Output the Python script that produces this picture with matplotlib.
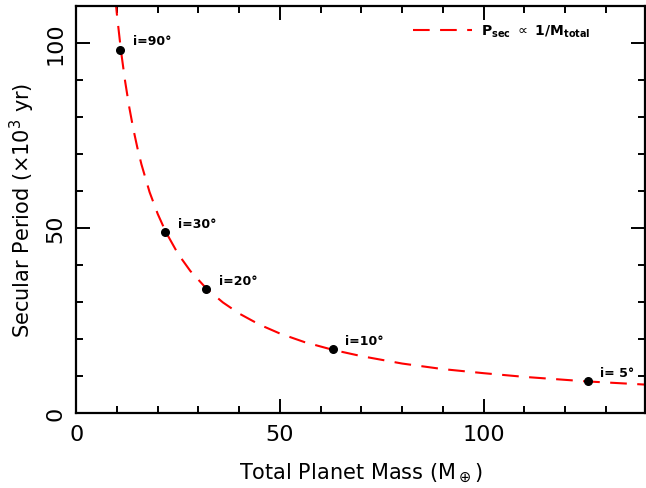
import matplotlib
matplotlib.use('Agg')
import matplotlib.pyplot as plt
from matplotlib.ticker import MultipleLocator

# curve P_sec ~ 1/M_total
curve_mass = [9.6, 10, 11, 12, 13, 14, 15, 16, 18, 20, 22, 25, 28, 32, 36, 40, 45,
              50, 56, 63, 70, 80, 90, 100, 110, 125, 140]
curve_period = [112, 107.5, 97.7, 89.6, 82.7, 76.8, 71.7, 67.2, 59.7, 53.8, 48.9,
                43.0, 38.4, 33.6, 29.9, 26.9, 23.9, 21.5, 19.2, 17.1, 15.4, 13.4,
                11.9, 10.8, 9.8, 8.6, 7.7]

# inclination points
point_mass = [10.8, 21.8, 31.9, 63.0, 125.5]
point_period = [98.1, 48.9, 33.5, 17.3, 8.65]
point_labels = ['i=90°', 'i=30°', 'i=20°', 'i=10°', 'i= 5°']

fig = plt.figure(figsize=(6.46, 4.89), dpi=100)
ax = fig.add_axes([0.118, 0.153, 0.88, 0.833])

ax.plot(curve_mass, curve_period, color='red', lw=1.5, dashes=(8, 5),
        label=r'P$_{\mathbf{sec}}$ $\propto$ 1/M$_{\mathbf{total}}$')
ax.scatter(point_mass, point_period, color='black', s=30, zorder=3)
for m, p, lab in zip(point_mass, point_period, point_labels):
    ax.annotate(lab, (m, p), xytext=(9, 4), textcoords='offset points',
                fontsize=9, fontweight='bold')

ax.set_xlim(0, 139.5)
ax.set_ylim(0, 110)
ax.xaxis.set_major_locator(MultipleLocator(50))
ax.xaxis.set_minor_locator(MultipleLocator(10))
ax.yaxis.set_major_locator(MultipleLocator(50))
ax.yaxis.set_minor_locator(MultipleLocator(10))
ax.tick_params(which='both', direction='in', top=True, right=True, width=1.4)
ax.tick_params(which='major', length=10, labelsize=16, pad=8)
ax.tick_params(which='minor', length=5)
for lab in ax.get_yticklabels():
    lab.set_rotation(90)
    lab.set_va('center')
for s in ax.spines.values():
    s.set_linewidth(1.6)

ax.set_xlabel(r'Total Planet Mass (M$_\oplus$)', fontsize=15, labelpad=12)
ax.set_ylabel(r'Secular Period ($\times$10$^3$ yr)', fontsize=15, labelpad=6)

leg = ax.legend(loc='upper right', frameon=False, fontsize=10, handlelength=4.2,
                handletextpad=0.7, borderaxespad=0.8, bbox_to_anchor=(0.935, 1.0))
for t in leg.get_texts():
    t.set_fontweight('bold')

fig.savefig('out.png', dpi=100)
